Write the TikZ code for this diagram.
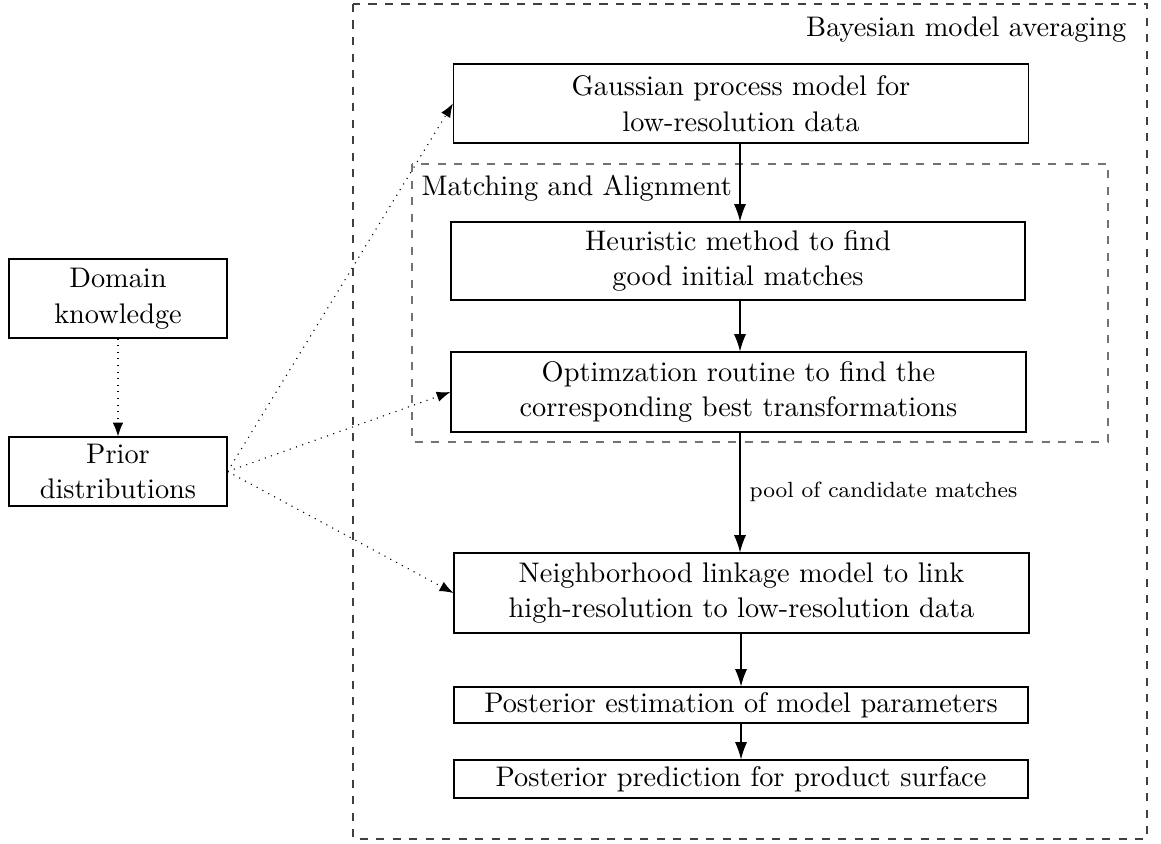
\documentclass[tikz,border=0pt]{standalone}
\usetikzlibrary{arrows.meta}
\begin{document}
\begin{tikzpicture}[x=0.3636pt,y=-0.3636pt,
  every node/.style={font=\fontsize{10.3}{13}\selectfont},
  stage/.style={draw,align=center,inner sep=0pt},
  flow/.style={-{Latex[length=6.3pt,width=4.4pt]}},
  prior link/.style={dotted,-{Latex[length=5pt,width=3.8pt]}},
  outer frame/.style={draw=black!75,dashed},
  inner frame/.style={draw=black!55,dashed}]
\useasboundingbox (0,0) rectangle (1161,843);

% frames
\draw[outer frame] (353,4) rectangle (1147,839);
\draw[inner frame] (412,164) rectangle (1108,442);
\node[anchor=east] (bma) at (1136,30) {Bayesian model averaging};
\node[anchor=west] (ma) at (412,188) {Matching and Alignment};

% main pipeline
\node[stage,minimum width=575*0.3636pt,minimum height=79*0.3636pt] (gp) at (741,103.5)
  {Gaussian process model for\\low-resolution data};
\node[stage,minimum width=574*0.3636pt,minimum height=78*0.3636pt] (heur) at (738,261)
  {Heuristic method to find\\good initial matches};
\node[stage,minimum width=575*0.3636pt,minimum height=80*0.3636pt] (opt) at (738.5,392)
  {Optimzation routine to find the\\corresponding best transformations};
\node[stage,minimum width=575*0.3636pt,minimum height=80*0.3636pt] (nbr) at (741.5,593)
  {Neighborhood linkage model to link\\high-resolution to low-resolution data};
\node[stage,minimum width=574*0.3636pt,minimum height=36*0.3636pt] (est) at (741,705)
  {Posterior estimation of model parameters};
\node[stage,minimum width=574*0.3636pt,minimum height=38*0.3636pt] (pred) at (741,779)
  {Posterior prediction for product surface};

% priors
\node[stage,minimum width=218*0.3636pt,minimum height=79*0.3636pt] (dom) at (118,298.5)
  {Domain\\knowledge};
\node[stage,minimum width=218*0.3636pt,minimum height=69*0.3636pt] (prior) at (118,471.5)
  {Prior\\distributions};

% connectors
\coordinate (a1) at (740,143);
\coordinate (a2) at (740,300);
\coordinate (a3) at (740,432);
\draw[flow] (a1) -- (a1 |- heur.north);
\draw[flow] (a2) -- (a2 |- opt.north);
\draw[flow] (a3) -- node[right,font=\footnotesize] (pool) {pool of candidate matches} (a3 |- nbr.north);
\draw[flow] (est.north |- nbr.south) -- (est.north);
\draw[flow] (est.south) -- (pred.north);

\draw[prior link] (dom) -- (prior);
\draw[prior link] (prior.east) -- (gp.west);
\draw[prior link] (prior.east) -- (opt.west);
\draw[prior link] (prior.east) -- (nbr.west);
\end{tikzpicture}
\end{document}
